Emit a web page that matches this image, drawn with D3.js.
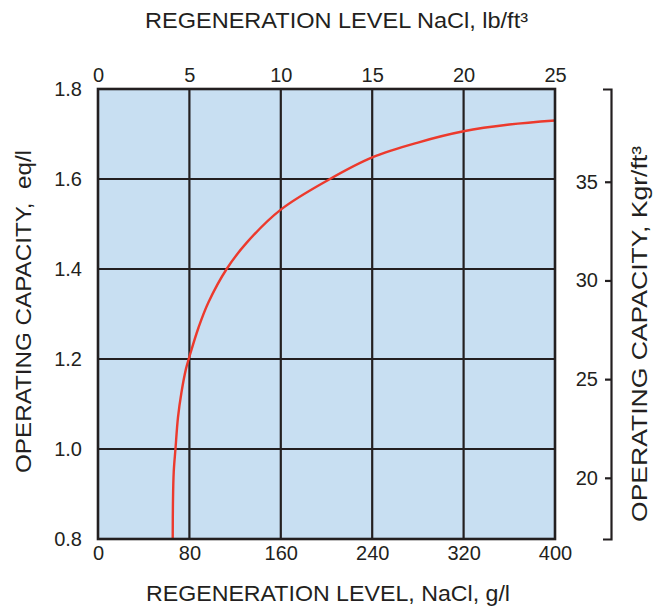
<!DOCTYPE html>
<html>
<head>
<meta charset="utf-8">
<script src="https://cdn.jsdelivr.net/npm/d3@7"></script>
<style>
  html, body { margin: 0; padding: 0; background: #fff; }
  svg { display: block; font-family: "Liberation Sans", Arial, Helvetica, sans-serif; }
</style>
</head>
<body>
<svg id="chart" width="660" height="610"></svg>
<script>
// Regeneration level (g/l NaCl) vs operating capacity (eq/l)
const regenGL  = [65.4, 65.6, 66.3, 67.8, 70.0, 73.0, 77.0, 80.0, 88.0, 96.5, 112.6, 130, 160, 203, 240, 280, 320, 360, 400];
const capacity = [0.80, 0.88, 0.95, 1.00, 1.07, 1.125, 1.178, 1.205, 1.27, 1.325, 1.40, 1.458, 1.532, 1.60, 1.648, 1.681, 1.706, 1.721, 1.730];

const bottomTicks = [0, 80, 160, 240, 320, 400];        // g/l
const topTicks    = [0, 5, 10, 15, 20, 25];             // lb/ft³
const leftTicks   = [0.8, 1.0, 1.2, 1.4, 1.6, 1.8];     // eq/l
const rightTicks  = [20, 25, 30, 35];                   // Kgr/ft³
const rightDomain = [16.9, 39.7];                       // Kgr/ft³ at the plot's bottom and top

const svg = d3.select("#chart");
const L = 98, R = 555, T = 89, B = 539;

const x    = d3.scaleLinear().domain([0, 400]).range([L, R]);
const xTop = d3.scaleLinear().domain([0, 25]).range([L, R]);
const y    = d3.scaleLinear().domain([0.8, 1.8]).range([B, T]);
const yR   = d3.scaleLinear().domain(rightDomain).range([B, T]);

const ink = "#231f20";

// plot background
svg.append("rect")
  .attr("x", L).attr("y", T).attr("width", R - L).attr("height", B - T)
  .attr("fill", "#c8dff2");

// grid
const grid = svg.append("g").attr("stroke", ink).attr("stroke-width", 2.2);
grid.selectAll("line.v").data(bottomTicks.slice(1, -1)).join("line")
  .attr("x1", d => x(d)).attr("x2", d => x(d)).attr("y1", T).attr("y2", B);
grid.selectAll("line.h").data(leftTicks.slice(1, -1)).join("line")
  .attr("y1", d => y(d)).attr("y2", d => y(d)).attr("x1", L).attr("x2", R);

// curve
const line = d3.line()
  .x((d, i) => x(regenGL[i]))
  .y((d, i) => y(capacity[i]))
  .curve(d3.curveCatmullRom.alpha(0.5));
svg.append("path")
  .datum(regenGL)
  .attr("d", line)
  .attr("fill", "none")
  .attr("stroke", "#ec3a2d")
  .attr("stroke-width", 2.4);

// frame
svg.append("rect")
  .attr("x", L).attr("y", T).attr("width", R - L).attr("height", B - T)
  .attr("fill", "none").attr("stroke", ink).attr("stroke-width", 2.6);

const tickFont = 20;
function styleAxis(g) {
  g.select(".domain").remove();
  g.selectAll(".tick line").remove();
  g.selectAll("text").attr("font-size", tickFont).attr("fill", ink)
    .attr("font-family", "Liberation Sans, Arial, sans-serif");
}

// bottom axis
svg.append("g").attr("transform", `translate(0,${B})`)
  .call(d3.axisBottom(x).tickValues(bottomTicks).tickSize(0).tickPadding(7).tickFormat(d3.format("d")))
  .call(styleAxis);

// top axis
svg.append("g").attr("transform", `translate(0,${T})`)
  .call(d3.axisTop(xTop).tickValues(topTicks).tickSize(0).tickPadding(7).tickFormat(d3.format("d")))
  .call(styleAxis);

// left axis
svg.append("g").attr("transform", `translate(${L},0)`)
  .call(d3.axisLeft(y).tickValues(leftTicks).tickSize(0).tickPadding(16).tickFormat(d3.format(".1f")))
  .call(styleAxis);

// right axis (Kgr/ft³) with ticks pointing toward the plot
const gR = svg.append("g").attr("transform", "translate(611,0)")
  .call(d3.axisLeft(yR).tickValues(rightTicks).tickSize(6).tickSizeOuter(8).tickPadding(7).tickFormat(d3.format("d")));
gR.select(".domain").attr("stroke", ink).attr("stroke-width", 2.2);
gR.selectAll(".tick line").attr("stroke", ink).attr("stroke-width", 2.2);
gR.selectAll("text").attr("font-size", tickFont).attr("fill", ink);

// axis titles (slightly wide lettering)
const titleFont = 22;
function title(t, len) {
  return t.attr("text-anchor", "middle")
    .attr("font-size", titleFont).attr("fill", ink)
    .attr("textLength", len).attr("lengthAdjust", "spacingAndGlyphs");
}

title(svg.append("text").attr("x", 336.5).attr("y", 28), 383)
  .text("REGENERATION LEVEL NaCl, lb/ft³");

title(svg.append("text").attr("x", 328).attr("y", 601), 364)
  .text("REGENERATION LEVEL, NaCl, g/l");

title(svg.append("text").attr("transform", "translate(31,311.5) rotate(-90)"), 323)
  .attr("xml:space", "preserve")
  .style("white-space", "pre")
  .text("OPERATING CAPACITY,  eq/l");

title(svg.append("text").attr("transform", "translate(647,334) rotate(-90)"), 376)
  .text("OPERATING CAPACITY, Kgr/ft³");
</script>
</body>
</html>
